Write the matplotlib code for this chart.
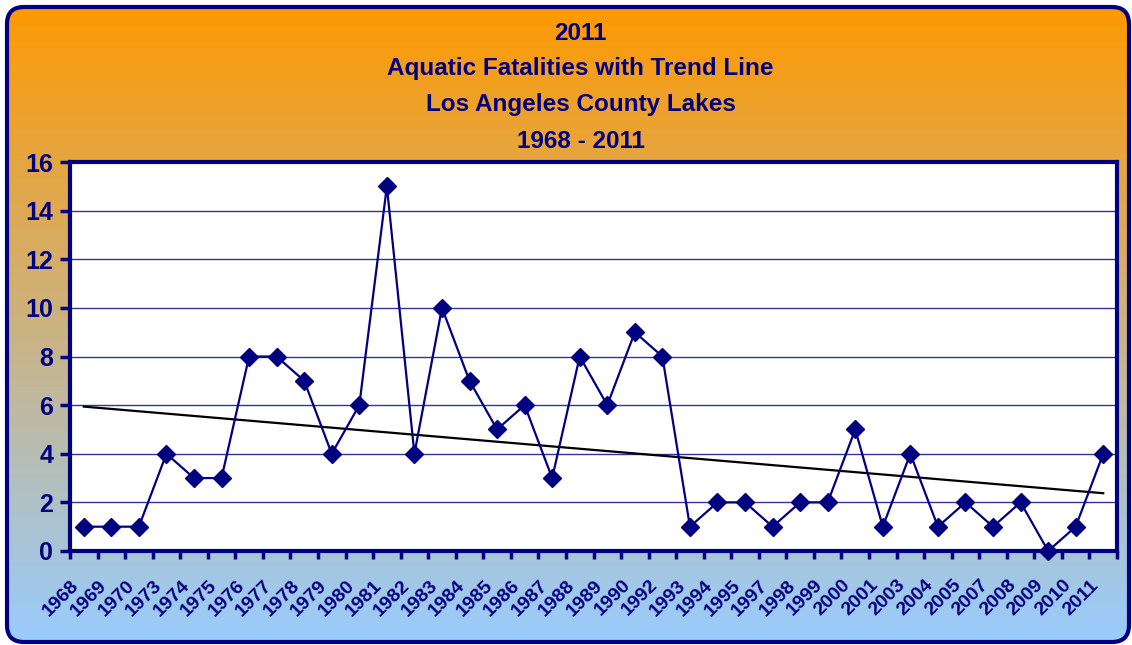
"""Aquatic fatalities with trend line, LA County lakes 1968-2011."""

import matplotlib

matplotlib.use("Agg")
import matplotlib.pyplot as plt  # noqa: E402
import matplotlib.transforms as mtransforms  # noqa: E402
import numpy as np  # noqa: E402
from matplotlib.patches import FancyBboxPatch  # noqa: E402

years = [
    "1968", "1969", "1970", "1973", "1974", "1975", "1976", "1977", "1978", "1979",
    "1980", "1981", "1982", "1983", "1984", "1985", "1986", "1987", "1988", "1989",
    "1990", "1992", "1993", "1994", "1995", "1997", "1998", "1999", "2000", "2001",
    "2003", "2004", "2005", "2007", "2008", "2009", "2010", "2011",
]
fatalities = [
    1, 1, 1, 4, 3, 3, 8, 8, 7, 4,
    6, 15, 4, 10, 7, 5, 6, 3, 8, 6,
    9, 8, 1, 2, 2, 1, 2, 2, 5, 1,
    4, 1, 2, 1, 2, 0, 1, 4,
]
title_lines = [
    "2011",
    "Aquatic Fatalities with Trend Line",
    "Los Angeles County Lakes",
    "1968 - 2011",
]

NAVY = "#000080"
W, H = 1132, 645

fig = plt.figure(figsize=(W / 100, H / 100), dpi=100)

# gradient background inside a rounded frame
bg = fig.add_axes([0, 0, 1, 1])
bg.set_xlim(0, W)
bg.set_ylim(0, H)
bg.axis("off")
top = np.array([255, 153, 0]) / 255
bot = np.array([153, 204, 255]) / 255
t = np.linspace(0, 1, 256)[:, None]
grad = (top * (1 - t) + bot * t)[:, None, :]
img = bg.imshow(grad, extent=[0, W, 0, H], aspect="auto", origin="upper", zorder=0)
box = FancyBboxPatch((7, 3), W - 10, H - 10, boxstyle="round,pad=0,rounding_size=17",
                     facecolor="none", edgecolor=NAVY, linewidth=3, zorder=2)
bg.add_patch(box)
img.set_clip_path(box)

for i, line in enumerate(title_lines):
    fig.text(0.513, 1 - (33 + 36 * i) / H, line, ha="center", va="center",
             fontsize=17.5, fontweight="bold", color=NAVY, family="Liberation Sans")

ax = fig.add_axes([70 / W, 1 - 551 / H, (1117 - 70) / W, (551 - 162) / H])
ax.set_facecolor("white")
x = np.arange(len(years))

ax.set_ylim(0, 16)
ax.set_yticks(range(0, 17, 2))
for yv in range(2, 16, 2):
    ax.axhline(yv, color="#333399", linewidth=1, zorder=1)

slope, intercept = np.polyfit(x, fatalities, 1)
ax.plot(x, slope * x + intercept, color="black", linewidth=1.6, zorder=2)
ax.plot(x, fatalities, color=NAVY, linewidth=1.6, marker="D", markersize=9,
        zorder=3, clip_on=False)

ax.set_xlim(-0.5, len(years) - 0.5)
ax.set_xticks(np.arange(len(years) + 1) - 0.5)
ax.set_xticklabels([])

# category labels, rotated and nudged like the Excel original
shift = mtransforms.ScaledTranslation(-0.04, -0.35, fig.dpi_scale_trans)
for xi, yr in zip(x, years):
    ax.text(xi, 0, yr, transform=ax.get_xaxis_transform() + shift,
            rotation=45, ha="right", va="baseline", rotation_mode="anchor",
            fontsize=14, fontweight="bold", color=NAVY, family="Liberation Sans")

ax.tick_params(axis="x", direction="out", length=6, width=2.5, color=NAVY)
ax.tick_params(axis="y", direction="out", length=7, width=2.5, color=NAVY,
               labelsize=18, labelcolor=NAVY, pad=5)
for lbl in ax.get_yticklabels():
    lbl.set_fontweight("bold")
    lbl.set_family("Liberation Sans")

for s in ax.spines.values():
    s.set_color(NAVY)
    s.set_linewidth(3)

fig.savefig("out.png", dpi=100)
